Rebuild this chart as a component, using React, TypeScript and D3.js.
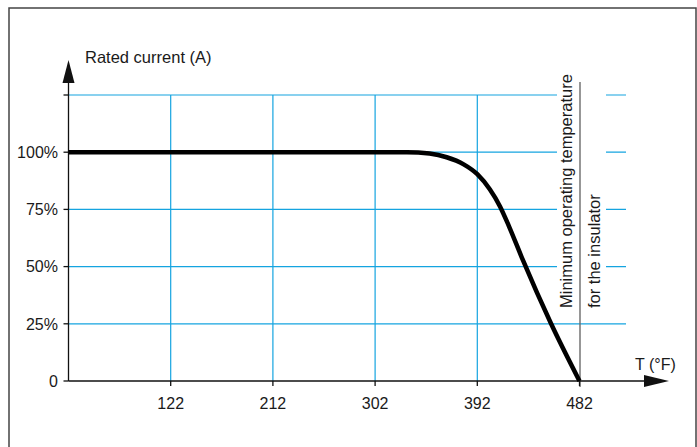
import React from "react";
import * as d3 from "d3";

const tempTicks = [122, 212, 302, 392, 482];
const pctTicks = [0, 25, 50, 75, 100, 125];
const pctLabels = ["0", "25%", "50%", "75%", "100%", ""];
const curveTemps = [32, 330, 350, 365, 380, 392, 403, 412, 420, 432, 457, 482];
const curveValues = [100, 100, 99.4, 97.8, 94.7, 90.4, 83.8, 76.3, 67.5, 53, 25, 0];

const W = 697;
const H = 447;
const FONT = "'Liberation Sans', Arial, sans-serif";
const GRID = "#14a4e0";

export default function App() {
  const x = d3.scaleLinear().domain([32, 482]).range([68.5, 579.5]);
  const y = d3.scaleLinear().domain([0, 125]).range([381, 95]);
  const line = d3
    .line<number>()
    .x((_, i) => x(curveTemps[i]))
    .y((d) => y(d))
    .curve(d3.curveMonotoneX);
  const x0 = x(32);
  const y0 = y(0);
  const gridRight = 626;

  return (
    <svg
      width={W}
      height={H}
      style={{ position: "absolute", left: 0, top: 0, display: "block", background: "#fff" }}
      fontFamily={FONT}
    >
      <rect x={9} y={8} width={687} height={460} fill="#fff" stroke="#444" strokeWidth={1.5} />
      {/* horizontal grid */}
      {pctTicks
        .filter((p) => p > 0)
        .map((p) => (
          <line key={"h" + p} x1={x0} x2={gridRight} y1={y(p)} y2={y(p)} stroke={GRID} strokeWidth={1.2} />
        ))}
      {/* vertical grid */}
      {tempTicks
        .filter((t) => t < 482)
        .map((t) => (
          <line key={"v" + t} x1={x(t)} x2={x(t)} y1={y(0)} y2={y(125)} stroke={GRID} strokeWidth={1.2} />
        ))}
      {/* gap behind rotated labels */}
      <rect x={557} y={68} width={49} height={242} fill="#fff" />
      {/* limit line */}
      <line x1={x(482) + 0.5} x2={x(482) + 0.5} y1={82} y2={387} stroke="#6a6a6a" strokeWidth={1.4} />
      {/* axes */}
      <line x1={x0} x2={x0} y1={y0} y2={83} stroke="#111" strokeWidth={1.3} />
      <polygon points={`${x0 - 6},83 ${x0 + 6},83 ${x0},60`} fill="#111" />
      <line x1={x0} x2={645} y1={y0} y2={y0} stroke="#111" strokeWidth={1.3} />
      <polygon points={`644,${y0 - 6} 644,${y0 + 6} 669,${y0}`} fill="#111" />
      {pctTicks.map((p, i) => (
        <g key={"yt" + p}>
          <line x1={x0 - 5} x2={x0} y1={y(p)} y2={y(p)} stroke="#111" strokeWidth={1.3} />
          <text x={58} y={y(p)} dy="0.36em" textAnchor="end" fontSize={16} fill="#1a1a1a">
            {pctLabels[i]}
          </text>
        </g>
      ))}
      {tempTicks.map((t) => (
        <g key={"xt" + t}>
          <line x1={x(t)} x2={x(t)} y1={y0} y2={y0 + 5} stroke="#111" strokeWidth={1.3} />
          <text x={x(t)} y={409} textAnchor="middle" fontSize={16} fill="#1a1a1a">
            {t}
          </text>
        </g>
      ))}
      {/* curve */}
      <path d={line(curveValues) || ""} fill="none" stroke="#000" strokeWidth={4.5} strokeLinejoin="round" />
      {/* labels */}
      <text x={85} y={63} fontSize={16.5} fill="#1a1a1a">
        Rated current (A)
      </text>
      <text x={635} y={370} fontSize={16} fill="#1a1a1a">
        T (°F)
      </text>
      <text transform="translate(572,308) rotate(-90)" fontSize={16.5} fill="#1a1a1a">
        Minimum operating temperature
      </text>
      <text transform="translate(600,308) rotate(-90)" fontSize={16.5} fill="#1a1a1a">
        for the insulator
      </text>
    </svg>
  );
}
